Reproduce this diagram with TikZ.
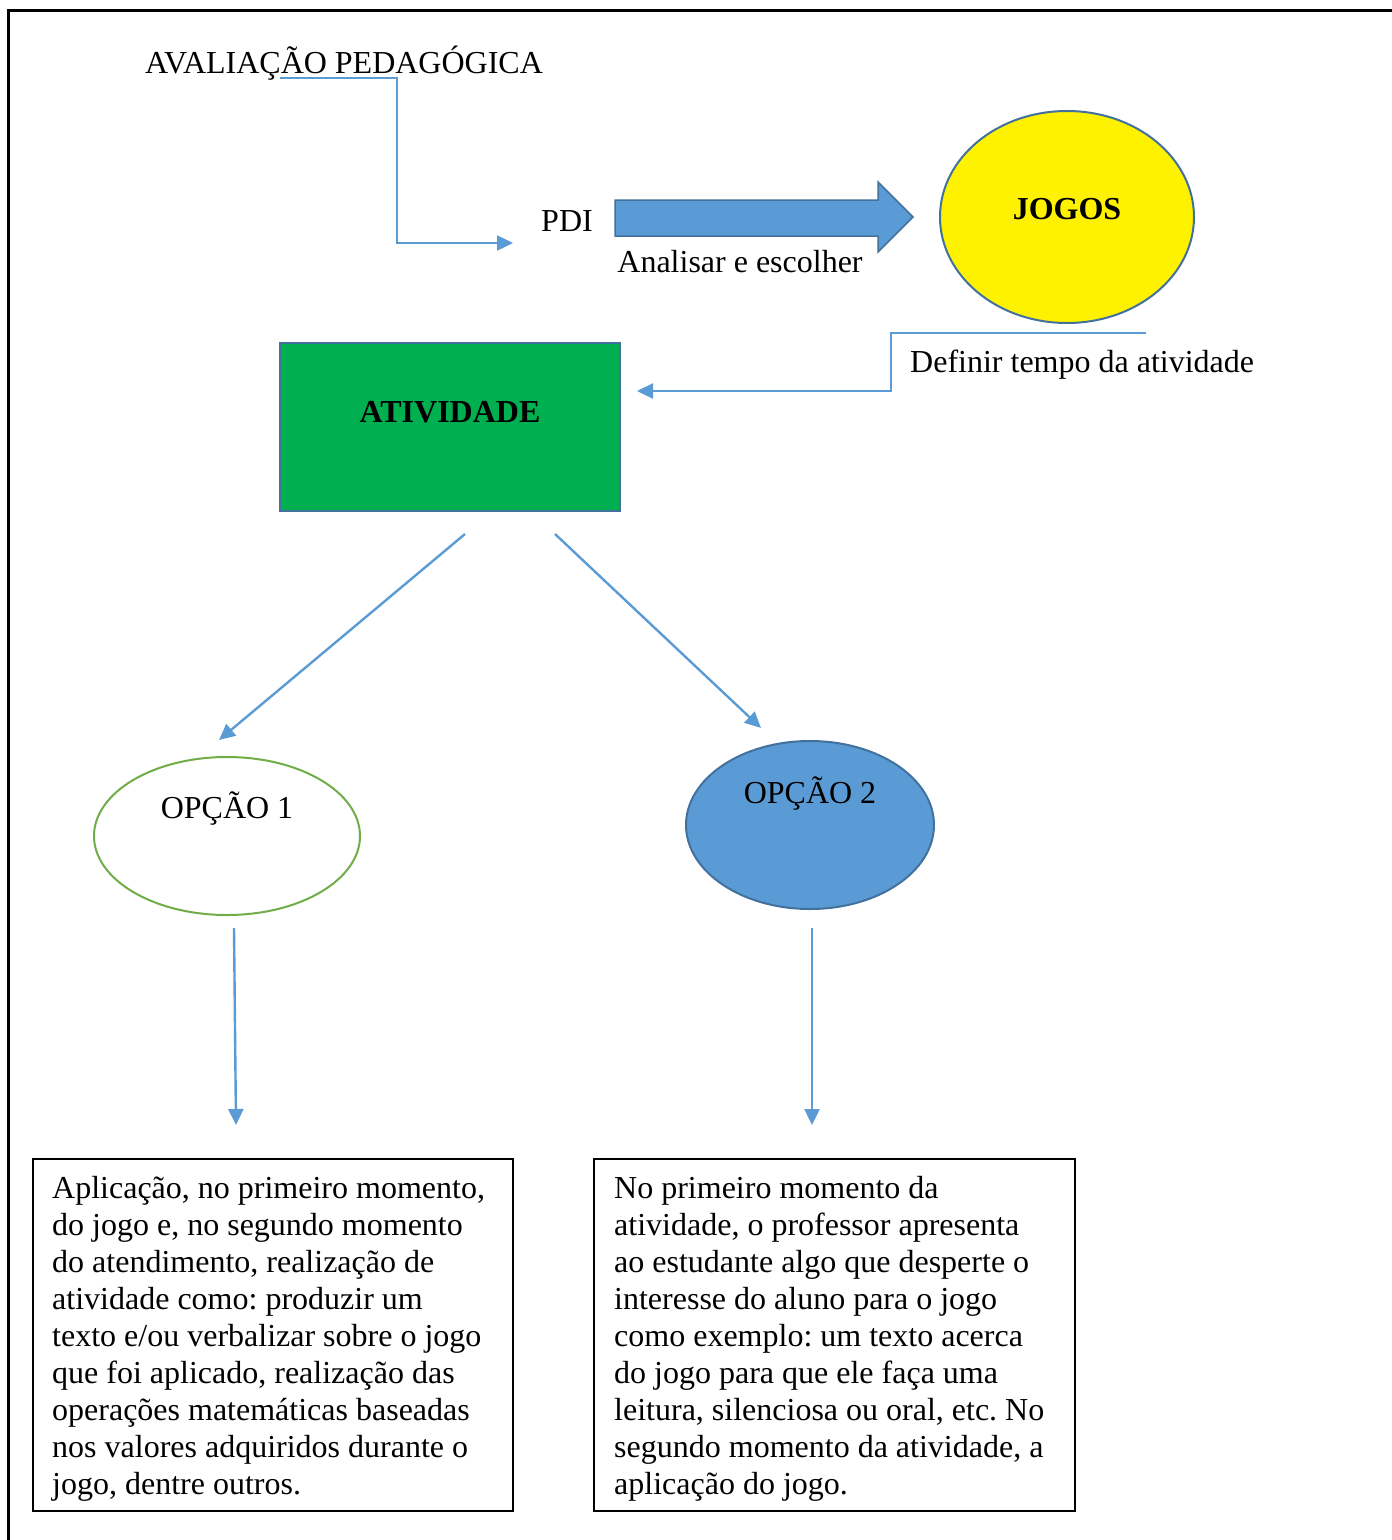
\documentclass[tikz,border=0pt]{standalone}
\usepackage{fontspec}
\setmainfont{Liberation Serif}
\usetikzlibrary{arrows.meta,shapes.geometric}
\definecolor{lblue}{HTML}{5B9BD5}
\definecolor{dblue}{HTML}{41719C}
\definecolor{vgreen}{HTML}{00B050}
\definecolor{ogreen}{HTML}{70AD47}
\frenchspacing
\begin{document}
\begin{tikzpicture}[x=1pt,y=-1pt,
  txt/.style={font=\fontsize{32}{37}\selectfont, inner sep=0pt},
  btxt/.style={font=\fontsize{32}{37}\selectfont\bfseries, inner sep=0pt},
  conn/.style={draw=lblue, line width=2.4pt, -{Triangle[length=16pt,width=15pt]}},
  oval/.style={ellipse, inner sep=0pt, line width=2pt},
  textbox/.style={draw=black, line width=2.2pt, inner sep=0pt},
  para/.style={font=\fontsize{32}{37}\selectfont, inner sep=0pt, align=left, anchor=north west}]
\useasboundingbox (0,0) rectangle (1392,1540);
% frame
\draw[line width=3pt] (8,1540) -- (8,10) -- (1392,10);

% top
\node[txt] (aval) at (344,63) {AVALIAÇÃO PEDAGÓGICA};
\node[txt] (pdi) at (567,221) {PDI};
\draw[fill=lblue, draw=dblue, line width=1.5pt] (615,200) -- (878,200) -- (878,182) -- (913,217) -- (878,252) -- (878,236) -- (615,236) -- cycle;
\node[txt] (anal) at (740,262) {Analisar e escolher};

\node[oval, draw=dblue, fill=yellow, minimum width=254pt, minimum height=212pt] (jogos) at (1067,217) {};
\node[btxt] (jogost) at (1067,209) {JOGOS};

\coordinate (c1s) at (280,78);
\coordinate (c1k) at (397,243);
\coordinate (c1e) at (513,243);
\draw[conn] (c1s) -| (c1k) -- (c1e);

\coordinate (c2s) at (1146,333);
\coordinate (c2k) at (891,391);
\coordinate (c2e) at (637,391);
\draw[conn] (c2s) -| (c2k) -- (c2e);
\node[txt, anchor=west] (def) at (910,365) {Definir tempo da atividade};

% atividade
\node[draw=dblue, fill=vgreen, line width=2pt, minimum width=340pt, minimum height=168pt, inner sep=0pt] (ativ) at (450,427) {};
\node[btxt] (ativt) at (450,412) {ATIVIDADE};

\coordinate (d1s) at (465,534);
\coordinate (d1e) at (219,740);
\coordinate (d2s) at (555,534);
\coordinate (d2e) at (761,728);
\draw[conn] (d1s) -- (d1e);
\draw[conn] (d2s) -- (d2e);

% options
\node[oval, draw=ogreen, fill=white, minimum width=266pt, minimum height=158pt] (op1) at (227,836) {};
\node[txt] (op1t) at (227,809) {OPÇÃO 1};
\node[oval, draw=dblue, fill=lblue, minimum width=248pt, minimum height=168pt] (op2) at (810,825) {};
\node[txt] (op2t) at (810,794) {OPÇÃO 2};

\coordinate (v1s) at (234,928);
\coordinate (v1e) at (236,1125);
\coordinate (v2s) at (812,928);
\coordinate (v2e) at (812,1125);
\draw[conn] (v1s) -- (v1e);
\draw[conn] (v2s) -- (v2e);

% boxes
\node[textbox, minimum width=480pt, minimum height=352pt] (box1) at (273,1335) {};
\node[textbox, minimum width=481pt, minimum height=352pt] (box2) at (834.5,1335) {};
\node[para] (p1) at (52,1176) {Aplicação, no primeiro momento,\\
do jogo e, no segundo momento\\
do atendimento, realização de\\
atividade como: produzir um\\
texto e/ou verbalizar sobre o jogo\\
que foi aplicado, realização das\\
operações matemáticas baseadas\\
nos valores adquiridos durante o\\
jogo, dentre outros.};
\node[para] (p2) at (614,1176) {No primeiro momento da\\
atividade, o professor apresenta\\
ao estudante algo que desperte o\\
interesse do aluno para o jogo\\
como exemplo: um texto acerca\\
do jogo para que ele faça uma\\
leitura, silenciosa ou oral, etc. No\\
segundo momento da atividade, a\\
aplicação do jogo.};
\end{tikzpicture}
\end{document}
